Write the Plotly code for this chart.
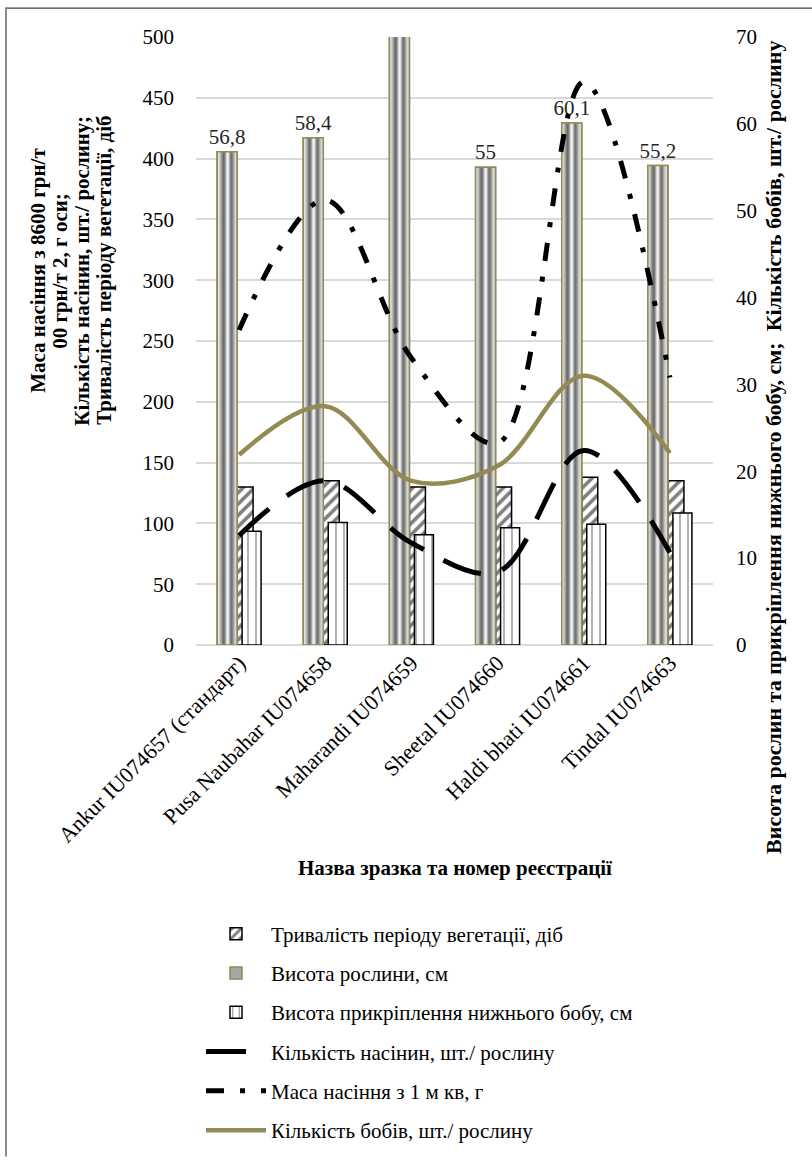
import plotly.graph_objects as go

# ---------------- data ----------------
categories = ["Ankur IU074657 (стандарт)", "Pusa Naubahar IU074658", "Maharandi IU074659",
              "Sheetal IU074660", "Haldi bhati IU074661", "Tindal IU074663"]
veg_period = [130, 135, 130, 130, 138, 135]          # Тривалість періоду вегетації, діб (left axis)
plant_height = [56.8, 58.4, 72.0, 55.0, 60.1, 55.2]  # Висота рослини, см (right axis)
pod_height = [13.1, 14.1, 12.7, 13.5, 13.9, 15.2]    # Висота прикріплення нижнього бобу, см (right axis)
seeds_count = [90, 135, 84, 60, 160, 76]             # Кількість насінин, шт./ рослину (left axis)
seed_mass = [259, 366, 236, 166, 463, 220]           # Маса насіння з 1 м кв, г (left axis)
pods_count = [21.9, 27.5, 18.9, 20.6, 31.0, 22.1]    # Кількість бобів, шт./ рослину (right axis)

left_ticks = [0, 50, 100, 150, 200, 250, 300, 350, 400, 450, 500]
right_ticks = [0, 10, 20, 30, 40, 50, 60, 70]

left_title_lines = ["Маса насіння з 8600 грн/т", "00 грн/т 2, г оси;",
                    "Кількість насінин, шт./ рослину;", "Тривалість періоду вегетації, діб"]
right_title = "Висота рослин та прикріплення нижнього бобу, см; \u00a0Кількість бобів, шт./ рослину"
x_title = "Назва зразка та номер реєстрації"

FONT = "Liberation Serif"
OLIVE = "#948a54"
CAT_PX = 517 / 6.0  # one category in px (for style offsets)

def px(v):
    return v / CAT_PX

def fmt(v, vmax):
    return ("%g" % v).replace(".", ",") if v <= vmax else ""

fig = go.Figure()

# hatched bars – left axis
fig.add_trace(go.Bar(
    x=categories, y=veg_period, name="Тривалість періоду вегетації, діб",
    yaxis="y", offset=px(-2), width=px(16),
    marker=dict(color="white", line=dict(color="black", width=1.5),
                pattern=dict(shape="/", fgcolor="black", bgcolor="white", size=8, solidity=0.45)),
    legendgroup="a", hoverinfo="skip"))

# gray cylinder bars – right axis
fig.add_trace(go.Bar(
    x=categories, y=plant_height, name="Висота рослини, см",
    yaxis="y2", offset=px(-22), width=px(20),
    marker=dict(color="#a6a6a6", line=dict(color=OLIVE, width=1.5)),
    text=[fmt(v, right_ticks[-1]) for v in plant_height], textposition="outside",
    constraintext="none",
    textfont=dict(family=FONT, size=21, color="#262626"), cliponaxis=False,
    legendgroup="b", hoverinfo="skip"))
strip_cols = ["#e2e2e2", "#d0d0d0", "#b8b8b8", "#9a9a9a", "#7e7e7e", "#6c6c6c", "#7a7a7a",
              "#a4a4a4", "#d4d4d4", "#f2f2f2", "#e0e0e0", "#b0b0b0", "#858585", "#727272",
              "#848484", "#a2a2a2", "#c0c0c0", "#d6d6d6"]
n = len(strip_cols)
sw = 18.0 / n
for i, c in enumerate(strip_cols):
    fig.add_trace(go.Bar(
        x=categories, y=plant_height, yaxis="y2", offset=px(-21 + i * sw), width=px(sw + 0.4),
        marker=dict(color=c, line=dict(width=0)), showlegend=False, hoverinfo="skip",
        legendgroup="b"))
fig.add_trace(go.Bar(
    x=categories, y=plant_height, yaxis="y2", offset=px(-22), width=px(20),
    marker=dict(color="rgba(0,0,0,0)", line=dict(color=OLIVE, width=1.5)),
    showlegend=False, hoverinfo="skip", legendgroup="b"))

# dotted bars – right axis
fig.add_trace(go.Bar(
    x=categories, y=pod_height, name="Висота прикріплення нижнього бобу, см",
    yaxis="y2", offset=px(3), width=px(19),
    marker=dict(color="white", line=dict(color="black", width=1.5),
                pattern=dict(shape="|", fgcolor="black", bgcolor="white", size=8, solidity=0.15)),
    legendgroup="c", hoverinfo="skip"))

# lines
fig.add_trace(go.Scatter(
    x=categories, y=seeds_count, name="Кількість насінин, шт./ рослину", yaxis="y3",
    mode="lines", line=dict(color="black", width=5, dash="40px,22px", shape="spline", smoothing=1),
    legendgroup="d", hoverinfo="skip"))
fig.add_trace(go.Scatter(
    x=categories, y=seed_mass, name="Маса насіння з 1 м кв, г", yaxis="y3",
    mode="lines", line=dict(color="black", width=5, dash="18px,16px,5px,16px", shape="spline", smoothing=1),
    legendgroup="e", hoverinfo="skip"))
fig.add_trace(go.Scatter(
    x=categories, y=pods_count, name="Кількість бобів, шт./ рослину", yaxis="y4",
    mode="lines", line=dict(color=OLIVE, width=4.5, shape="spline", smoothing=1),
    legendgroup="f", hoverinfo="skip"))

L, R, T, B = 196, 99, 37, 514
W, H = 812, 1162
pw, ph = W - L - R, H - T - B

def xp(p):
    return (p - L) / pw

def yp(p):
    return (H - B - p) / ph

ytickfont = dict(family=FONT, size=21, color="black")
xtickfont = dict(family=FONT, size=22, color="black")

annotations = [
    dict(text="<b>%s</b>" % x_title, x=xp(455), y=yp(872),
         xref="paper", yref="paper", showarrow=False, xanchor="center", yanchor="middle",
         font=dict(family=FONT, size=21, color="black")),
    dict(text="<b>%s</b>" % right_title,
         x=xp(774), y=yp(450), xref="paper", yref="paper", showarrow=False, textangle=-90,
         xanchor="center", yanchor="middle",
         font=dict(family=FONT, size=22, color="black")),
]
for i, line in enumerate(left_title_lines):
    annotations.append(dict(
        text="<b>%s</b>" % line, x=xp(38 + 22 * i), y=yp(272), xref="paper", yref="paper",
        showarrow=False, textangle=-90, xanchor="center", yanchor="middle",
        font=dict(family=FONT, size=21, color="black")))

fig.update_layout(
    width=W, height=H, autosize=False,
    margin=dict(l=L, r=R, t=T, b=B, pad=0),
    paper_bgcolor="white", plot_bgcolor="white",
    barmode="overlay", separators=", ",
    font=dict(family=FONT, size=21, color="black"),
    xaxis=dict(type="category", tickangle=-45, tickfont=xtickfont, showgrid=False,
               showline=False, ticks="", zeroline=False, automargin=False),
    yaxis=dict(range=[0, 500], tickvals=left_ticks, tickfont=ytickfont, showgrid=True,
               gridcolor="#d9d9d9", gridwidth=1.5, zeroline=True, zerolinecolor="#d9d9d9",
               zerolinewidth=1.5, ticks="", ticklabelstandoff=21, showline=False, automargin=False),
    yaxis2=dict(range=[0, 70], tickvals=right_ticks, tickfont=ytickfont, overlaying="y",
                side="right", showgrid=False, zeroline=False, ticks="", ticklabelstandoff=22,
                automargin=False),
    yaxis3=dict(range=[0, 500], overlaying="y", visible=False),
    yaxis4=dict(range=[0, 70], overlaying="y", visible=False),
    legend=dict(orientation="v", x=xp(201), y=yp(1156), xanchor="left", yanchor="bottom",
                font=dict(family=FONT, size=21, color="black"), tracegroupgap=9,
                itemwidth=60, bgcolor="rgba(0,0,0,0)"),
    showlegend=True,
    annotations=annotations,
    shapes=[
        dict(type="line", xref="paper", yref="paper", x0=xp(5), x1=xp(812), y0=yp(8), y1=yp(8),
             line=dict(color="#404040", width=1.2)),
        dict(type="line", xref="paper", yref="paper", x0=xp(6), x1=xp(6), y0=yp(8), y1=yp(1162),
             line=dict(color="#8c8c8c", width=2)),
    ],
)

fig.write_html("out.html", config={"displayModeBar": False},
               post_script="document.body.style.margin='0';document.body.style.overflow='hidden';")
